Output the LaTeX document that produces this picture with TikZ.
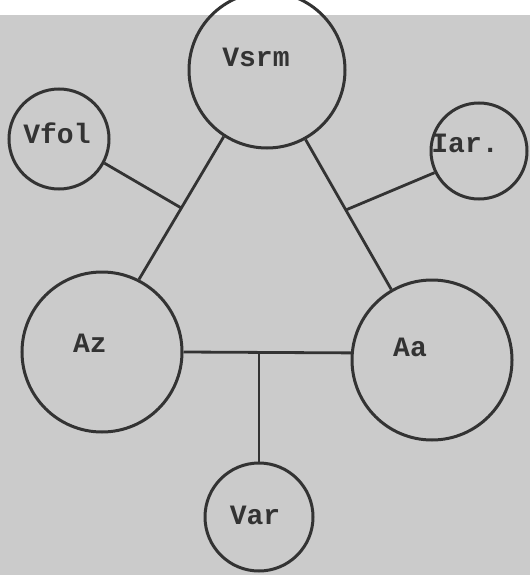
\documentclass[tikz,border=0pt]{standalone}
\usepackage{fontspec}
\setmonofont{Liberation Mono}
\usetikzlibrary{calc}
\definecolor{paper}{HTML}{CBCBCB}
\definecolor{ink}{HTML}{333333}
\begin{document}
\begin{tikzpicture}[x=1pt,y=-1pt,
  ring/.style={circle,draw=ink,line width=3pt,inner sep=0pt,minimum size=#1},
  lab/.style={text=ink,font=\fontsize{28}{28}\selectfont\ttfamily\bfseries,inner sep=0pt},
  link/.style={draw=ink,line width=2.8pt}]
\useasboundingbox (0,0) rectangle (530,575);
\clip (0,0) rectangle (530,575);
\fill[paper] (0,15) rectangle (530,575);
\fill[white] (0,0) rectangle (530,15);
% circles
\node[ring=156pt] (top) at (267,70) {};
\node[ring=100pt] (vfol) at (59,139) {};
\node[ring=96pt] (iar) at (479,151) {};
\node[ring=160pt] (az) at (102,352) {};
\node[ring=160pt] (aa) at (432,360) {};
\node[ring=108pt] (var) at (259,517) {};
% labels
\node[lab] (ltop) at (256,57) {Vsrm};
\node[lab] (lvfol) at (57,133) {Vfol};
\node[lab] (liar) at (465,143) {Iar.};
\node[lab] (laz) at (90,343) {Az};
\node[lab] (laa) at (410,347) {Aa};
\node[lab] (lvar) at (255,515) {Var};
% connectors
\draw[link] (top.237) -- (az.63);
\draw[link] (top.299) -- (aa.120);
\coordinate (lm) at ($(top.237)!0.5!(az.63)$);
\coordinate (rm) at ($(top.299)!0.47!(aa.120)$);
\draw[link] (vfol.-28) -- (lm);
\draw[link] (iar.206) -- (rm);
\draw[link] (az.east) -- (aa.175);
\coordinate (hm) at (259,353);
\draw[link] (hm) -- (var.north);
\end{tikzpicture}
\end{document}
